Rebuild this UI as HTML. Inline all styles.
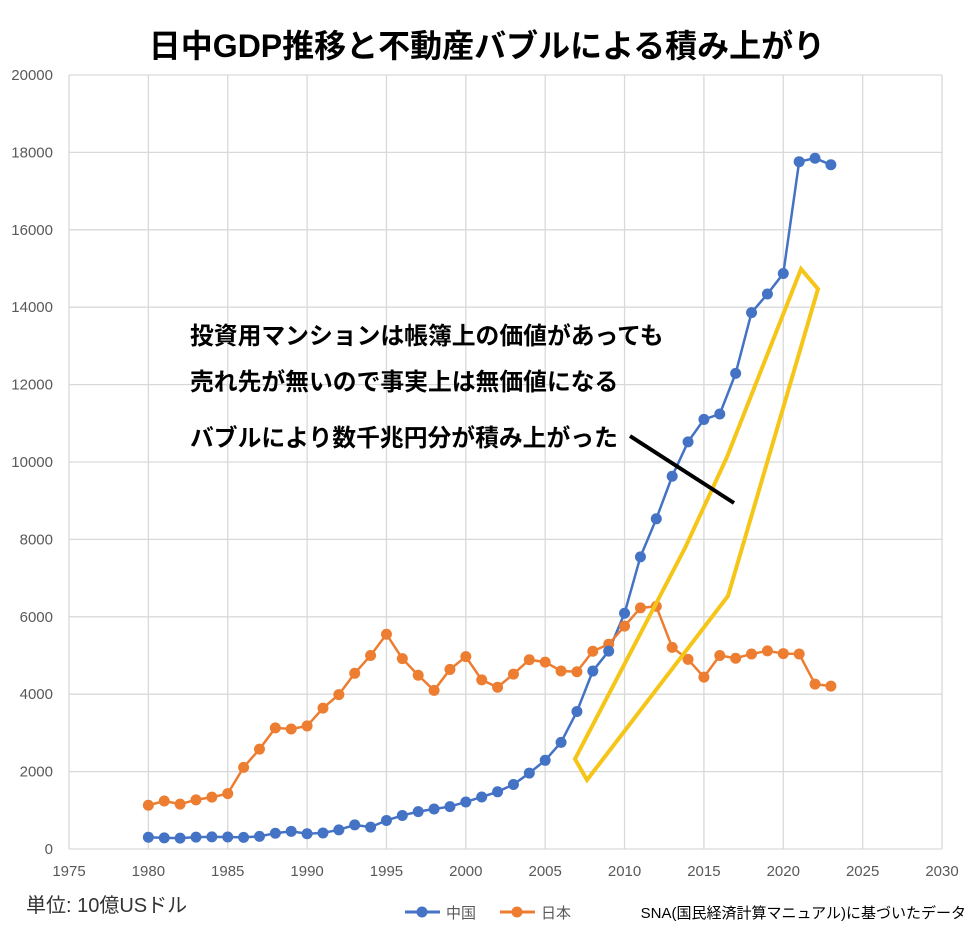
<!DOCTYPE html>
<html><head><meta charset="utf-8"><style>
body{margin:0;background:#fff;}
svg text{font-family:"Liberation Sans","Noto Sans CJK JP",sans-serif;}
</style></head><body>
<svg width="969" height="931" xmlns="http://www.w3.org/2000/svg">
<rect width="969" height="931" fill="#fff"/>
<text x="487" y="57" text-anchor="middle" font-size="32" font-weight="bold" fill="#000">日中GDP推移と不動産バブルによる積み上がり</text>
<g id="grid" stroke="#d9d9d9" stroke-width="1.3"></g>
<g id="ylab" font-size="15" fill="#595959" text-anchor="end"></g>
<g id="xlab" font-size="15" fill="#595959" text-anchor="middle"></g>
<polyline id="cn" fill="none" stroke="#4472c4" stroke-width="2.5"/>
<polyline id="jp" fill="none" stroke="#ed7d31" stroke-width="2.5"/>
<g id="dots"></g>
<polygon points="575,759 587,780 728,596 818,289 801,269 727,457 685,548" fill="none" stroke="#f5c518" stroke-width="4" stroke-linejoin="miter"/>
<line x1="630" y1="436" x2="734" y2="503" stroke="#000" stroke-width="4"/>
<g font-size="23.8" font-weight="bold" fill="#000">
<text x="190" y="344">投資用マンションは帳簿上の価値があっても</text>
<text x="190" y="390">売れ先が無いので事実上は無価値になる</text>
<text x="190" y="446">バブルにより数千兆円分が積み上がった</text>
</g>
<text x="26" y="912" font-size="20" fill="#333">単位: 10億USドル</text>
<line x1="405" y1="912" x2="440" y2="912" stroke="#4472c4" stroke-width="3"/><circle cx="422" cy="912" r="5.5" fill="#4472c4"/>
<text x="446" y="918" font-size="15" fill="#595959">中国</text>
<line x1="500" y1="912" x2="535" y2="912" stroke="#ed7d31" stroke-width="3"/><circle cx="517" cy="912" r="5.5" fill="#ed7d31"/>
<text x="541" y="918" font-size="15" fill="#595959">日本</text>
<text x="966" y="918" font-size="15" fill="#000" text-anchor="end">SNA(国民経済計算マニュアル)に基づいたデータ</text>
</svg>
<script>
const X=y=>69+(y-1975)*15.873, Y=v=>849-v*0.0387;
const ns="http://www.w3.org/2000/svg";
function el(p,t,a,txt){const e=document.createElementNS(ns,t);for(const k in a)e.setAttribute(k,a[k]);if(txt!=null)e.textContent=txt;document.getElementById(p).appendChild(e);}
for(let v=0;v<=20000;v+=2000){el('grid','line',{x1:69,x2:942,y1:Y(v),y2:Y(v)});el('ylab','text',{x:53,y:Y(v)+5},v);}
for(let y=1975;y<=2030;y+=5){el('grid','line',{x1:X(y),x2:X(y),y1:75,y2:849});el('xlab','text',{x:X(y),y:876},y);}
const cn=[303,288,282,306,313,309,301,327,408,457,395,415,495,623,566,738,867,965,1033,1096,1215,1344,1478,1667,1962,2292,2756,3553,4598,5114,6092,7550,8532,9631,10520,11100,11240,12290,13860,14340,14870,17760,17850,17680];
const jp=[1130,1240,1160,1270,1340,1430,2110,2580,3130,3100,3180,3640,3990,4540,5000,5550,4920,4490,4100,4640,4970,4370,4180,4520,4890,4830,4600,4580,5110,5290,5760,6230,6270,5210,4900,4440,5000,4930,5040,5120,5050,5040,4260,4210];
function draw(d,id,c){document.getElementById(id).setAttribute('points',d.map((v,i)=>X(1980+i)+','+Y(v)).join(' '));d.forEach((v,i)=>el('dots','circle',{cx:X(1980+i),cy:Y(v),r:5.5,fill:c}));}
draw(jp,'jp','#ed7d31');draw(cn,'cn','#4472c4');
</script>
</body></html>
